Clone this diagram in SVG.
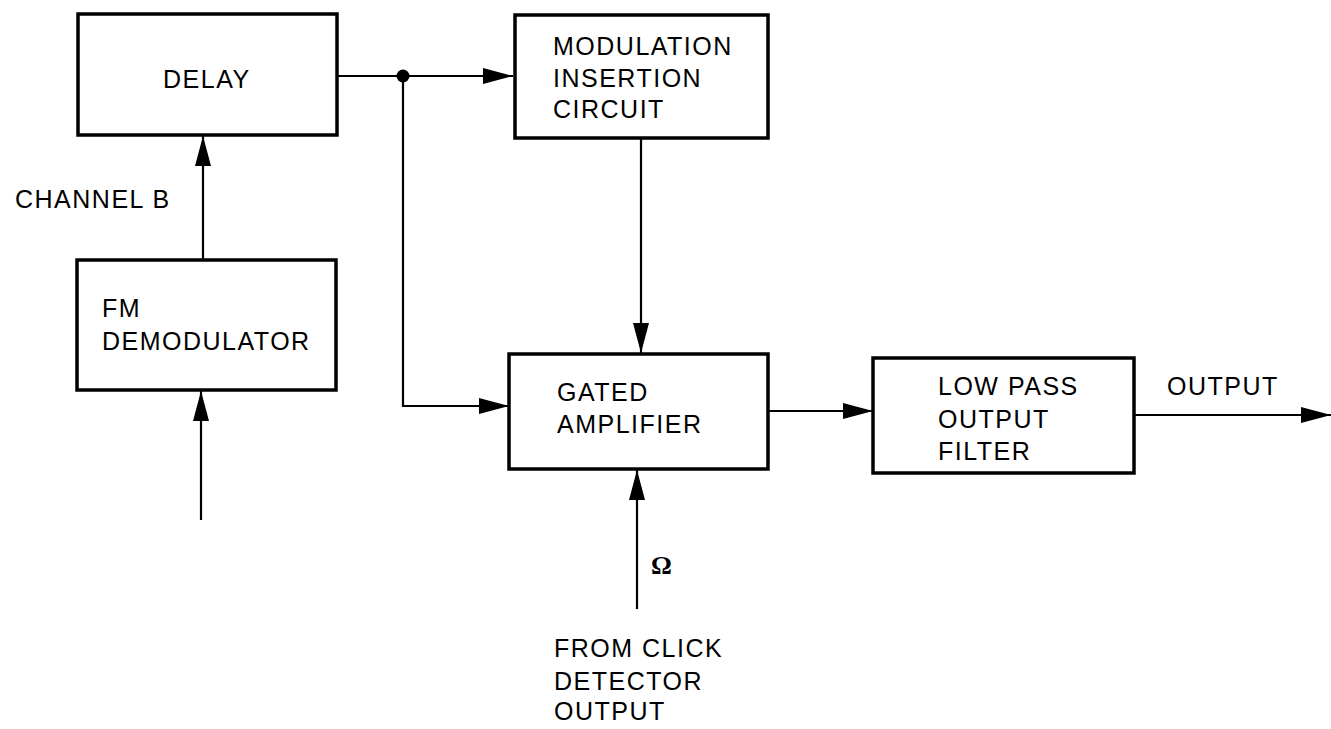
<svg xmlns="http://www.w3.org/2000/svg" width="1331" height="729" viewBox="0 0 1331 729">
<style>
.box{fill:#fff;stroke:#000;stroke-width:3.5}
.ln{fill:none;stroke:#000;stroke-width:2.2}
text{font-family:"Liberation Sans",Arial,sans-serif;font-size:25px;letter-spacing:1.5px;fill:#000}
</style>
<defs>
<marker id="ah" viewBox="0 0 30 16" refX="30" refY="8" markerWidth="30" markerHeight="16" markerUnits="userSpaceOnUse" orient="auto">
<path d="M0,0 L30,8 L0,16 Z" fill="#000"/>
</marker>
</defs>
<rect width="1331" height="729" fill="#fff"/>
<g id="connectors">
<path class="ln" d="M337,76 H513" marker-end="url(#ah)"/>
<circle cx="403" cy="76" r="6.5" fill="#000"/>
<path class="ln" d="M403,76 V406 H509" marker-end="url(#ah)"/>
<path class="ln" d="M641,138 V353" marker-end="url(#ah)"/>
<path class="ln" d="M203,260 V136" marker-end="url(#ah)"/>
<path class="ln" d="M201,520 V391" marker-end="url(#ah)"/>
<path class="ln" d="M637,609 V470" marker-end="url(#ah)"/>
<path class="ln" d="M768,411 H873" marker-end="url(#ah)"/>
<path class="ln" d="M1134,415 H1331" marker-end="url(#ah)"/>
</g>
<g id="delay">
<rect class="box" x="78" y="14" width="259" height="121"/>
<text x="163" y="88">DELAY</text>
</g>
<g id="mic">
<rect class="box" x="515" y="15" width="253" height="123"/>
<text x="553" y="55">MODULATION</text>
<text x="553" y="87">INSERTION</text>
<text x="553" y="118">CIRCUIT</text>
</g>
<g id="fmdemod">
<rect class="box" x="77" y="260" width="259" height="130"/>
<text x="102" y="317">FM</text>
<text x="102" y="350">DEMODULATOR</text>
</g>
<g id="gated">
<rect class="box" x="509" y="354" width="259" height="115"/>
<text x="557" y="401">GATED</text>
<text x="557" y="433">AMPLIFIER</text>
</g>
<g id="lpf">
<rect class="box" x="873" y="358" width="261" height="115"/>
<text x="938" y="395">LOW PASS</text>
<text x="938" y="428">OUTPUT</text>
<text x="938" y="460">FILTER</text>
</g>
<g id="labels">
<text x="15" y="208">CHANNEL B</text>
<text x="1167" y="395">OUTPUT</text>
<text x="651" y="574" style="font-family:'Liberation Serif',serif;font-weight:bold;font-size:26px;letter-spacing:0">Ω</text>
<text x="554" y="657">FROM CLICK</text>
<text x="554" y="690">DETECTOR</text>
<text x="554" y="720">OUTPUT</text>
</g>
</svg>
